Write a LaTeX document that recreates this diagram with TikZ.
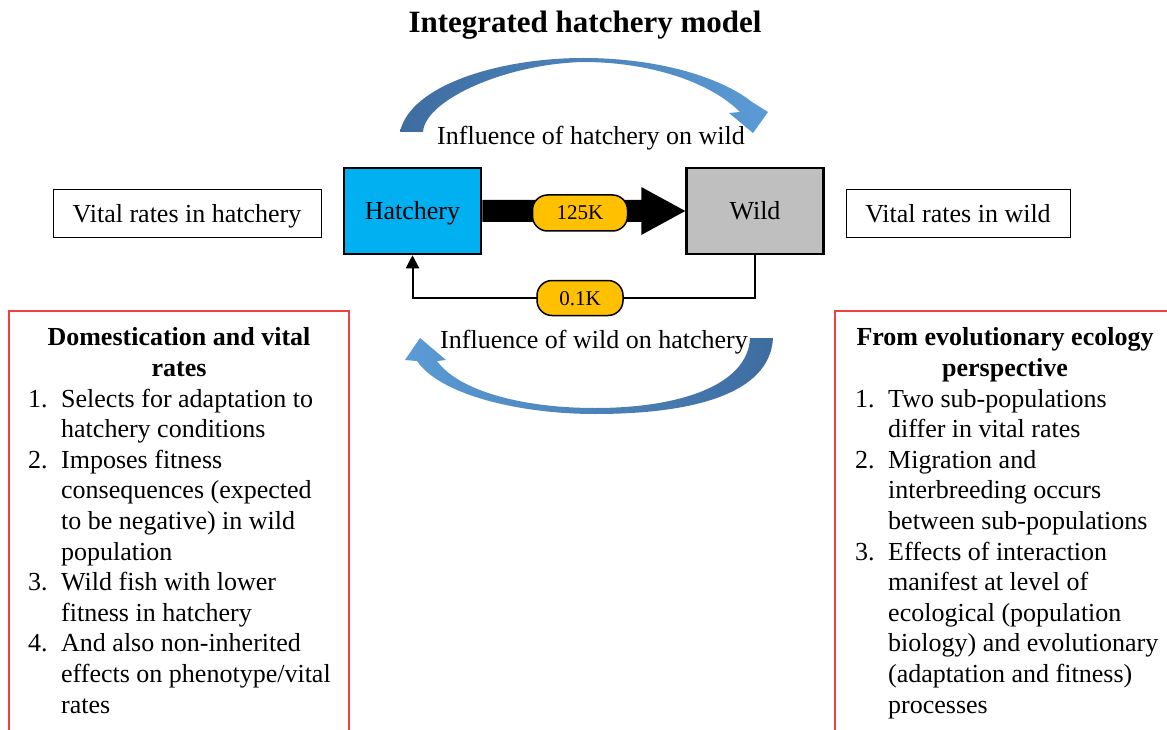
\documentclass[tikz,border=0pt]{standalone}
\usepackage{fontspec}
\setmainfont{Liberation Serif}
\usetikzlibrary{arrows.meta,calc}
\definecolor{hatchblue}{RGB}{0,176,240}
\definecolor{wildgray}{RGB}{191,191,191}
\definecolor{tagorange}{RGB}{255,192,0}
\definecolor{framered}{RGB}{240,64,64}
\definecolor{arcdark}{RGB}{62,108,160}
\definecolor{arclight}{RGB}{91,155,213}
\tikzset{
  txt/.style={inner sep=0pt, font=\fontsize{26}{30.6}\selectfont},
  itemtext/.style={txt, anchor=base west},
  numtext/.style={txt, anchor=base west},
  headtext/.style={txt, anchor=base, font=\bfseries\fontsize{26}{30.6}\selectfont},
  popbox/.style={draw, line width=2.5pt, minimum width=137pt, minimum height=86pt,
    inner sep=0pt, text height=18pt, text depth=0pt, font=\fontsize{26}{30.6}\selectfont},
  ratebox/.style={draw, line width=1pt, minimum height=47pt, inner sep=0pt,
    text height=18pt, text depth=0pt, font=\fontsize{26}{30.6}\selectfont},
  tag/.style={draw, line width=1.5pt, fill=tagorange, rounded corners=15pt,
    minimum width=95pt, minimum height=36pt, inner sep=0pt,
    text height=14pt, text depth=0pt, font=\fontsize{21}{24}\selectfont},
  frame/.style={draw=framered, line width=1.5pt},
  flowline/.style={line width=2pt, -{Triangle[length=13pt,width=13pt]}},
}
\begin{document}
\begin{tikzpicture}[x=1pt,y=-1pt]
\useasboundingbox (0,0) rectangle (1167,730);
\clip (0,0) rectangle (1167,730);

% title
\node[font=\bfseries\fontsize{31}{36}\selectfont, anchor=base, inner sep=0pt] (title) at (585,33) {Integrated hatchery model};

% curved arrow: hatchery -> wild
\shade[left color=arcdark, right color=arclight]
  (400,132) .. controls (410,85) and (500,58) .. (583,58)
  .. controls (660,58) and (722,78) .. (752,102)
  -- (768,112) -- (753,133) -- (729,113) -- (740,112)
  .. controls (710,82) and (650,62) .. (583,62)
  .. controls (505,64) and (425,100) .. (423,132) -- cycle;
\node[txt, anchor=base] (infhw) at (591,145) {Influence of hatchery on wild};

% curved arrow: wild -> hatchery
\shade[left color=arclight, right color=arcdark]
  (750,338) .. controls (748,385) and (680,408) .. (595,408)
  .. controls (520,408) and (458,390) .. (437,361)
  -- (446,360) -- (420,338) -- (405,360) -- (417,361)
  .. controls (440,395) and (520,414) .. (595,414)
  .. controls (690,414) and (770,395) .. (773,338) -- cycle;
\node[txt, anchor=base] (infwh) at (594,348) {Influence of wild on hatchery};

% populations
\node[popbox, fill=hatchblue] (hatch) at (412.5,211) {Hatchery};
\node[popbox, fill=wildgray] (wild) at (755,211) {Wild};
\node[ratebox, minimum width=268pt] (vrh) at (187,213.5) {Vital rates in hatchery};
\node[ratebox, minimum width=224pt] (vrw) at (958,213.5) {Vital rates in wild};

% broad flow hatchery -> wild
\fill ($(hatch.east)+(0,-11)$) -- ($(wild.west)+(-44,-11)$) -- ($(wild.west)+(-44,-24)$)
  -- (wild.west) -- ($(wild.west)+(-44,24)$) -- ($(wild.west)+(-44,11)$)
  -- ($(hatch.east)+(0,11)$) -- cycle;
\node[tag] (t125) at (580,213) {125K};

% return flow wild -> hatchery
\draw[flowline] (wild.south) -- ++(0,43) coordinate (turn) -| (hatch.south);
\node[tag, minimum width=86pt, minimum height=35pt] (t01) at (580,298) {0.1K};

% left panel
\draw[frame] (9,311) rectangle (349,745);
\node[headtext] (dh1) at (179,345) {Domestication and vital};
\node[headtext] (dh2) at (179,376) {rates};
\foreach \t [count=\i] in {{Selects for adaptation to}, {hatchery conditions}, {Imposes fitness},
  {consequences (expected}, {to be negative) in wild}, {population}, {Wild fish with lower},
  {fitness in hatchery}, {And also non-inherited}, {effects on phenotype/vital}, {rates}}
  \node[itemtext] (dl\i) at (61,{407+30.6*(\i-1)}) {\t};
\foreach \n/\r in {1/1,2/3,3/7,4/9}
  \node[numtext] (dn\n) at (28,{407+30.6*(\r-1)}) {\n.};

% right panel
\draw[frame] (835,311) rectangle (1180,745);
\node[headtext] (eh1) at (1005,345) {From evolutionary ecology};
\node[headtext] (eh2) at (1005,376) {perspective};
\foreach \t [count=\i] in {{Two sub-populations}, {differ in vital rates}, {Migration and},
  {interbreeding occurs}, {between sub-populations}, {Effects of interaction},
  {manifest at level of}, {ecological (population}, {biology) and evolutionary},
  {(adaptation and fitness)}, {processes}}
  \node[itemtext] (el\i) at (888,{407+30.6*(\i-1)}) {\t};
\foreach \n/\r in {1/1,2/3,3/6}
  \node[numtext] (en\n) at (855,{407+30.6*(\r-1)}) {\n.};
\end{tikzpicture}
\end{document}
